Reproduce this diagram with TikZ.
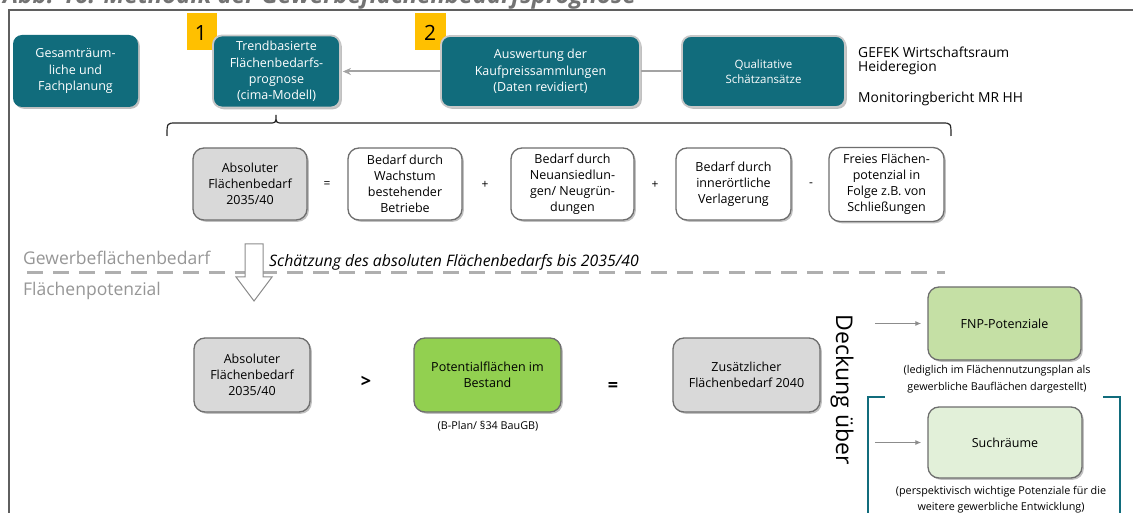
\documentclass[tikz,border=0pt]{standalone}
\usepackage{fontspec}
\setmainfont{Open Sans}
\usetikzlibrary{shadows,arrows.meta}
\definecolor{tealc}{RGB}{17,108,124}
\definecolor{halo}{RGB}{200,200,200}
\definecolor{yel}{RGB}{255,192,0}
\definecolor{boxgray}{RGB}{217,217,217}
\definecolor{boxline}{RGB}{110,110,110}
\definecolor{grn}{RGB}{146,208,80}
\definecolor{lgrn}{RGB}{197,224,165}
\definecolor{vlgrn}{RGB}{226,240,217}
\definecolor{arrgray}{RGB}{140,140,140}
\definecolor{dashgray}{RGB}{175,175,175}
\definecolor{labgray}{RGB}{150,150,150}
\definecolor{framegray}{RGB}{95,95,95}
\begin{document}
\begin{tikzpicture}[x=1pt,y=-1pt,
  shad/.style={drop shadow={shadow xshift=1.8pt,shadow yshift=-1.8pt,opacity=0.35,fill=black!70}},
  tealbox/.style={rounded corners=9pt,fill=tealc,draw=halo,line width=1.8pt,text=white,align=center,inner sep=0pt,shad,font=\fontsize{12.5}{16.3}\selectfont},
  yelbox/.style={fill=yel,minimum width=30pt,minimum height=37pt,inner sep=0pt},
  wbox/.style={rounded corners=11pt,fill=white,draw=boxline,line width=1.3pt,align=center,inner sep=0pt,shad,font=\fontsize{12.5}{16}\selectfont},
  gbox/.style={wbox,fill=boxgray},
  op/.style={font=\fontsize{12}{14}\selectfont,inner sep=0pt},
  bigop/.style={font=\bfseries\fontsize{18}{20}\selectfont,inner sep=0pt},
  note/.style={align=center,inner sep=0pt,font=\fontsize{10.8}{17.5}\selectfont},
  sidetext/.style={anchor=west,inner sep=0pt,font=\fontsize{13.8}{16}\selectfont},
  seclabel/.style={anchor=west,inner sep=0pt,text=labgray,font=\fontsize{17.5}{19}\selectfont},
  grayarrow/.style={draw=arrgray,line width=1.2pt,-{Latex[length=6pt,width=5pt]}}
]
\clip (0,0) rectangle (1133,513);
\fill[white] (0,0) rectangle (1133,513);

% title (cropped)
\node[anchor=base west,inner sep=0pt,text=black!55,font=\bfseries\itshape\fontsize{24}{27}\selectfont] (title) at (3,4) {Abb. 16: Methodik der Gewerbeflächenbedarfsprognose};

% frame
\draw[framegray,line width=2pt] (9,513) -- (9,10) -- (1134,10);

% yellow markers
\node[yelbox] (y1) at (202,31.5) {};
\node[anchor=center,inner sep=0pt,font=\fontsize{21}{24}\selectfont] (n1) at (201,33) {1};
\node[yelbox,minimum width=31pt] (y2) at (430.5,32) {};
\node[anchor=center,inner sep=0pt,font=\fontsize{21}{24}\selectfont] (n2) at (430,33) {2};

% top row
\node[tealbox,draw=none,minimum width=125pt,minimum height=72pt] (ges) at (75.5,71) {Gesamträum-\\liche und\\Fachplanung};
\node[tealbox,minimum width=127pt,minimum height=72pt] (trend) at (276.5,71.5) {Trendbasierte\\Flächenbedarfs-\\prognose\\(cima-Modell)};
\node[tealbox,minimum width=199pt,minimum height=71pt] (ausw) at (540.5,71.5) {Auswertung der\\Kaufpreissammlungen\\(Daten revidiert)};
\node[tealbox,minimum width=163pt,minimum height=71pt,font=\fontsize{11.5}{15}\selectfont] (qual) at (763.5,71.5) {Qualitative\\Schätzansätze};

\draw[draw=arrgray!80,line width=2pt,-{Stealth[length=8pt,width=7pt]}] (ausw.west) -- ([xshift=2pt]trend.east);
\draw[draw=arrgray!80,line width=2pt] (ausw.east) -- (qual.west);

\node[sidetext] (gefek) at (858,52) {GEFEK Wirtschaftsraum};
\node[sidetext] (heide) at (858,68) {Heideregion};
\node[sidetext] (mon) at (858,99) {Monitoringbericht MR HH};

% brace
\coordinate (bl) at (167,136);
\coordinate (br) at (951,136);
\coordinate (bt) at (276,115);
\draw[black!85,line width=1.2pt] (bl) .. controls (167,123) .. (176,123) -- (269,123) .. controls (276,123) .. (bt)
  .. controls (276,123) .. (283,123) -- (942,123) .. controls (951,123) .. (br);

% second row
\node[gbox,minimum width=114pt,minimum height=72pt] (abs1) at (250,184) {Absoluter\\Flächenbedarf\\2035/40};
\node[op] (eq1) at (327,185) {=};
\node[wbox,minimum width=114pt,minimum height=72pt] (wach) at (405,184) {Bedarf durch\\Wachstum\\bestehender\\Betriebe};
\node[op] (pl1) at (485,185) {+};
\node[wbox,minimum width=123pt,minimum height=72pt] (neu) at (572.5,184) {Bedarf durch\\Neuansiedlun-\\gen/ Neugrün-\\dungen};
\node[op] (pl2) at (655,185) {+};
\node[wbox,minimum width=115pt,minimum height=72pt] (inner) at (733.5,184) {Bedarf durch\\innerörtliche\\Verlagerung};
\node[op] (mi) at (811,185) {-};
\node[wbox,minimum width=115pt,minimum height=74pt] (frei) at (886.5,184.5) {Freies Flächen-\\potenzial in\\Folge z.B. von\\Schließungen};

% divider
\draw[dashgray,line width=3pt,dash pattern=on 16pt off 10pt] (27,273) -- (945,273);
\node[seclabel] (gew) at (23,258) {Gewerbeflächenbedarf};
\node[seclabel] (flp) at (23,291) {Flächenpotenzial};
\draw[draw=black!45,fill=white,line width=1pt] (245,244) -- (263,244) -- (263,277) -- (272,277) -- (254,301) -- (236,277) -- (245,277) -- cycle;
\node[anchor=west,inner sep=0pt,font=\itshape\fontsize{15.8}{18}\selectfont] (schaetz) at (269,262) {Schätzung des absoluten Flächenbedarfs bis 2035/40};

% bottom row
\node[gbox,minimum width=116pt,minimum height=74pt] (abs2) at (252,375) {Absoluter\\Flächenbedarf\\2035/40};
\node[bigop] (gt) at (366,382) {>};
\node[gbox,fill=grn,minimum width=147pt,minimum height=74pt] (pot) at (487.5,375) {Potentialflächen im\\Bestand};
\node[note] (bplan) at (488,426) {(B-Plan/ §34 BauGB)};
\node[bigop] (eq2) at (613,387) {=};
\node[gbox,minimum width=147pt,minimum height=74pt] (zus) at (746.5,375) {Zusätzlicher\\Flächenbedarf 2040};
\node[rotate=-90,inner sep=0pt,font=\fontsize{23}{26}\selectfont] (deck) at (842,390) {Deckung über};

\node[gbox,fill=lgrn,minimum width=153pt,minimum height=73pt] (fnp) at (1004.5,323.5) {FNP-Potenziale};
\node[note] (fnpnote) at (997,379) {(lediglich im Flächennutzungsplan als\\gewerbliche Bauflächen dargestellt)};
\node[gbox,fill=vlgrn,minimum width=154pt,minimum height=71pt] (such) at (1005,442.5) {Suchräume};
\node[note,font=\fontsize{10.8}{16.5}\selectfont] (suchnote) at (1001,499.5) {(perspektivisch wichtige Potenziale für die\\weitere gewerbliche Entwicklung)};

\coordinate (a1) at (875,323.5);
\coordinate (a2) at (875,442.5);
\draw[grayarrow,shorten >=6pt] (a1) -- (fnp.west);
\draw[grayarrow,shorten >=6pt] (a2) -- (such.west);

\draw[tealc,line width=1.5pt] (868,514) -- (868,397) -- (885,397);
\draw[tealc,line width=1.5pt] (1103,397) -- (1120,397) -- (1120,514);
\end{tikzpicture}
\end{document}
